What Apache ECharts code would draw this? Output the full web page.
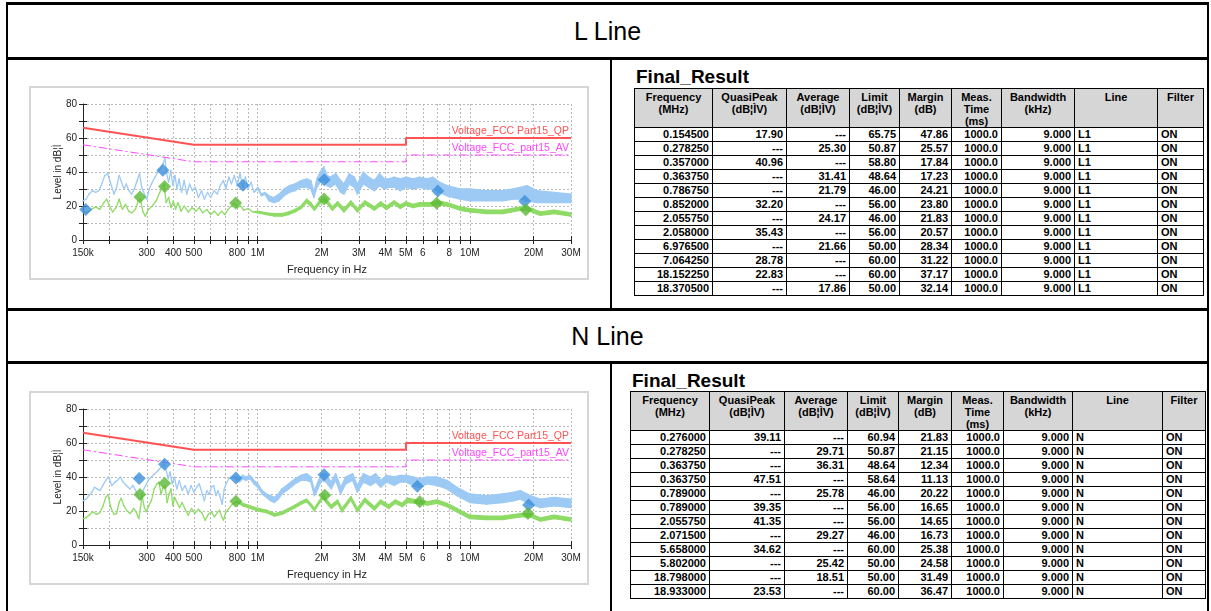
<!DOCTYPE html>
<html>
<head>
<meta charset="utf-8">
<title>Conducted Emission – L / N</title>
<script src="https://cdn.jsdelivr.net/npm/echarts@6.0.0/dist/echarts.min.js"></script>
<style>
  html, body { margin: 0; padding: 0; background: #fff; }
  body { position: relative; width: 1211px; height: 611px; overflow: hidden;
         font-family: "Liberation Sans", Arial, sans-serif; color: #000; }
  .rule { position: absolute; background: #000; }
  .section { position: absolute; left: 8px; width: 1199px; text-align: center;
             font-size: 25px; line-height: 30px; }
  .chart { position: absolute; left: 29px; width: 560px; height: 194px; box-sizing: border-box;
           border: 2px solid #d6d6d6; background: #fff; }
  .caption { position: absolute; font-weight: bold; font-size: 19px; line-height: 20px; }
  table.result { position: absolute; border-collapse: collapse; table-layout: fixed;
                 font-size: 11px; font-weight: bold; }
  table.result th, table.result td { border: 1px solid #000; padding: 0 3px; overflow: hidden; white-space: nowrap; }
  table.result th { background: #d6d6d6; vertical-align: top; text-align: center; line-height: 12px; padding-top: 2px; }
  table.result td { height: 13px; line-height: 13px; text-align: right; }
  table.result td.txt { text-align: left; }
</style>
</head>
<body>

<!-- page frame -->
<div class="rule" style="left:6px;top:2px;width:1203px;height:3px"></div>
<div class="rule" style="left:6px;top:2px;width:2px;height:609px"></div>
<div class="rule" style="left:1207px;top:2px;width:2px;height:609px"></div>
<div class="rule" style="left:6px;top:57px;width:1203px;height:3px"></div>
<div class="rule" style="left:6px;top:308px;width:1203px;height:3px"></div>
<div class="rule" style="left:6px;top:361px;width:1203px;height:3px"></div>
<div class="rule" style="left:610px;top:60px;width:2px;height:248px"></div>
<div class="rule" style="left:610px;top:364px;width:2px;height:247px"></div>

<div class="section" style="top:16px">L Line</div>
<div class="section" style="top:321px">N Line</div>

<div id="chartL" class="chart" style="top:86px"></div>
<div id="chartN" class="chart" style="top:391px"></div>

<div class="caption" style="left:636px;top:67px">Final_Result</div>
<table id="tableL" class="result" style="left:634px;top:88px;width:569px"></table>
<div class="caption" style="left:632px;top:371px">Final_Result</div>
<table id="tableN" class="result" style="left:630px;top:391px;width:575px"></table>

<script>
// ---------- axis ticks (frequency in MHz) ----------
const freqTickValues  = [0.15, 0.2, 0.3, 0.4, 0.5, 0.6, 0.7, 0.8, 0.9, 1, 2, 3, 4, 5, 6, 7, 8, 9, 10, 20, 30];
const freqLabelValues = [0.15, 0.3, 0.4, 0.5, 0.8, 1, 2, 3, 4, 5, 6, 8, 10, 20, 30];
const freqLabelTexts  = ['150k', '300', '400', '500', '800', '1M', '2M', '3M', '4M', '5M', '6', '8', '10M', '20M', '30M'];
const levelLabelValues = [0, 20, 40, 60, 80];

// ---------- FCC Part 15 class B limits [MHz, dBuV] ----------
const qpLimit = [[0.15, 66], [0.5, 56], [5, 56], [5, 60], [30, 60]];
const avLimit = [[0.15, 56], [0.5, 46], [5, 46], [5, 50], [30, 50]];

// ---------- final results: [MHz, QuasiPeak, Average, Limit, Margin] ----------
const lResults = [
  [0.154500, 17.90, null, 65.75, 47.86],
  [0.278250, null, 25.30, 50.87, 25.57],
  [0.357000, 40.96, null, 58.80, 17.84],
  [0.363750, null, 31.41, 48.64, 17.23],
  [0.786750, null, 21.79, 46.00, 24.21],
  [0.852000, 32.20, null, 56.00, 23.80],
  [2.055750, null, 24.17, 46.00, 21.83],
  [2.058000, 35.43, null, 56.00, 20.57],
  [6.976500, null, 21.66, 50.00, 28.34],
  [7.064250, 28.78, null, 60.00, 31.22],
  [18.152250, 22.83, null, 60.00, 37.17],
  [18.370500, null, 17.86, 50.00, 32.14]
];
const nResults = [
  [0.276000, 39.11, null, 60.94, 21.83],
  [0.278250, null, 29.71, 50.87, 21.15],
  [0.363750, null, 36.31, 48.64, 12.34],
  [0.363750, 47.51, null, 58.64, 11.13],
  [0.789000, null, 25.78, 46.00, 20.22],
  [0.789000, 39.35, null, 56.00, 16.65],
  [2.055750, 41.35, null, 56.00, 14.65],
  [2.071500, null, 29.27, 46.00, 16.73],
  [5.658000, 34.62, null, 60.00, 25.38],
  [5.802000, null, 25.42, 50.00, 24.58],
  [18.798000, null, 18.51, 50.00, 31.49],
  [18.933000, 23.53, null, 60.00, 36.47]
];
const measTimeMs = 1000.0;
const bandwidthKHz = 9.0;
const filterState = 'ON';

// ---------- pre-scan traces: [MHz, low dBuV, high dBuV] ----------
const lPeak = [
  [0.150,23,23],[0.155,24,24],[0.160,27,27],[0.166,29,29],[0.172,28,28],[0.178,29,29],[0.184,33,33],
  [0.190,38,38],[0.196,39,39],[0.203,33,33],[0.210,27,27],[0.216,31,31],[0.222,38,38],[0.228,34,34],
  [0.234,30,30],[0.240,33,33],[0.247,29,29],[0.254,27,27],[0.262,30,30],[0.270,35,35],[0.277,39,39],
  [0.284,31,31],[0.292,27,27],[0.300,24,24],[0.308,30,30],[0.318,34,34],[0.328,37,37],[0.338,40,40],
  [0.348,42,42],[0.358,45,45],[0.365,48,48],[0.372,39,39],[0.380,34,34],[0.389,41,41],[0.398,32,32],
  [0.407,38,38],[0.416,30,30],[0.426,36,36],[0.437,28,28],[0.450,35,35],[0.463,27,27],[0.477,33,33],
  [0.492,29,29],[0.508,31,31],[0.525,25,25],[0.543,29,29],[0.560,24,24],[0.580,28,28],[0.600,25,25],
  [0.622,29,29],[0.645,27,27],[0.665,32,32],[0.688,35,35],[0.708,30,30],[0.730,37,37],[0.752,33,33],
  [0.775,38,38],[0.800,32,32],[0.825,39,39],[0.850,31,31],[0.875,37,37],[0.900,30,30],[0.930,34,34],
  [0.960,28,28],[1.00,30,31],[1.04,26,27],[1.08,27,28],[1.13,23,26],[1.19,22,25],[1.26,23,27],
  [1.33,26,30],[1.41,28,32],[1.50,29,33],[1.60,31,35],[1.70,31,36],[1.78,30,35],[1.84,25,28],
  [1.90,31,36],[1.97,34,40],[2.05,35,43],[2.12,32,38],[2.20,31,37],[2.33,33,39],[2.46,28,35],
  [2.55,27,33],[2.70,33,39],[2.85,31,37],[2.95,27,33],[3.15,33,40],[3.33,31,37],[3.55,29,35],
  [3.75,32,39],[3.95,30,36],[4.15,31,36],[4.40,31,37],[4.70,29,36],[5.00,31,37],[5.40,30,36],
  [5.80,31,37],[6.30,30,36],[6.70,30,37],[7.20,28,34],[7.80,26,32],[8.40,25,31],[9.00,24,30],
  [10.0,23,30],[12.0,23,29],[14.3,23,29],[16.0,24,30],[17.3,24,31],[18.6,23,32],[20.7,22,29],
  [25.0,22,28],[30.0,22,27]
];
const lAvg = [
  [0.150,17,17],[0.157,16,16],[0.164,18,18],[0.172,19.5,19.5],[0.180,18,18],[0.188,22,22],[0.194,24,24],
  [0.200,20,20],[0.207,16.5,16.5],[0.215,19,19],[0.222,24,24],[0.230,18,18],[0.238,21,21],[0.246,17,17],
  [0.255,16,16],[0.265,18,18],[0.273,23,23],[0.280,24,24],[0.287,17,17],[0.295,14,14],[0.305,18,18],
  [0.318,20,20],[0.332,23,23],[0.345,28,28],[0.357,32,32],[0.362,33,33],[0.370,22,22],[0.380,25,25],
  [0.390,19,19],[0.400,23,23],[0.410,18,18],[0.420,22,22],[0.435,17,17],[0.450,20,20],[0.470,16.5,16.5],
  [0.490,19,19],[0.510,17,17],[0.530,19,19],[0.550,16,16],[0.575,18,18],[0.600,15,15],[0.625,17,17],
  [0.650,14.5,14.5],[0.675,17,17],[0.700,15,15],[0.725,18,18],[0.750,20,20],[0.775,22,22],[0.800,19,19],
  [0.830,20,20],[0.860,17.5,17.5],[0.900,18.5,18.5],[0.950,16.5,16.5],[1.00,16,17],[1.10,15,16],
  [1.20,14,15.5],[1.30,14,15.5],[1.40,15,16.5],[1.50,16.5,18],[1.60,18.5,20],[1.70,22,24],[1.78,20,22],
  [1.85,17.5,19],[1.95,21,23],[2.05,23,25],[2.12,21.5,23.5],[2.25,17.5,19.5],[2.38,20.5,22.5],
  [2.55,16.5,18.5],[2.75,21,23],[2.95,16.5,18.5],[3.20,21,23],[3.55,17.5,19.5],[3.80,20.5,22.5],
  [4.05,18,20],[4.40,21,23],[4.70,18.5,20.5],[5.00,20.5,22.5],[5.40,19,21],[5.80,20,22],[6.50,20,22],
  [7.00,21,23],[7.80,20,22],[9.00,17.5,19.5],[10.0,16.5,18.5],[12.0,15.5,17.5],[14.3,15.5,17.5],
  [17.3,17.5,19.5],[18.6,17.5,19.5],[21.5,14.5,16.5],[25.0,15.5,17.5],[30.0,14,16]
];
const nPeak = [
  [0.150,26,26],[0.155,27,27],[0.160,29,29],[0.165,31,31],[0.170,34,34],[0.175,33,33],[0.180,32,32],
  [0.186,35,35],[0.192,38,38],[0.198,40,40],[0.205,35,35],[0.212,37,37],[0.218,38,38],[0.225,40,40],
  [0.232,37,37],[0.240,35,35],[0.250,33,33],[0.258,35,35],[0.266,32,32],[0.274,28,28],[0.280,27,27],
  [0.288,32,32],[0.296,35,35],[0.305,38,38],[0.315,40,40],[0.328,42,42],[0.340,44,44],[0.352,46,46],
  [0.362,48,48],[0.370,44,44],[0.378,39,39],[0.386,43,43],[0.395,36,36],[0.405,40,40],[0.415,33,33],
  [0.427,38,38],[0.440,32,32],[0.455,35,35],[0.470,30,30],[0.485,35,35],[0.500,31,31],[0.515,34,34],
  [0.530,36,36],[0.548,30,30],[0.560,26,26],[0.575,32,32],[0.590,30,30],[0.605,34,34],[0.620,35,35],
  [0.635,29,29],[0.650,32,32],[0.665,28,28],[0.680,24,24],[0.695,33,33],[0.710,36,36],[0.730,39,39],
  [0.760,40,40],[0.790,39,40],[0.820,37,39],[0.850,39,41],[0.880,38,40],[0.920,39,41],[0.960,36,38],
  [1.00,34,36],[1.05,30,32],[1.10,28,30],[1.15,26,29],[1.20,25,28],[1.25,27,30],[1.30,30,33],
  [1.40,33,36],[1.50,36,39],[1.60,38,41],[1.70,38,42],[1.78,37,40],[1.85,29,32],[1.92,33,37],
  [2.00,38,42],[2.10,37,42],[2.22,33,37],[2.33,38,42],[2.46,30,34],[2.60,36,40],[2.80,38,42],
  [2.95,31,35],[3.15,37,42],[3.40,35,40],[3.60,37,42],[3.80,34,38],[4.05,37,41],[4.40,35,40],
  [4.70,37,41],[5.00,37,41],[5.40,35,40],[5.80,34,39],[6.30,36,40],[7.00,35,40],[7.80,33,38],
  [8.70,29,34],[10.0,25,30],[12.0,24,29],[14.3,25,30],[16.0,26,31],[17.3,27,32],[19.3,24,29],
  [21.5,22,27],[25.0,23,28],[30.0,22,27]
];
const nAvg = [
  [0.150,15.5,15.5],[0.155,16,16],[0.160,17.5,17.5],[0.167,19.5,19.5],[0.174,18,18],[0.180,19,19],
  [0.186,22.5,22.5],[0.192,28,28],[0.197,29.5,29.5],[0.203,22,22],[0.210,18,18],[0.216,18.5,18.5],
  [0.222,25,25],[0.227,27.5,27.5],[0.234,23,23],[0.242,20,20],[0.250,18.5,18.5],[0.260,21.5,21.5],
  [0.268,19,19],[0.275,15.5,15.5],[0.280,22,22],[0.285,29,29],[0.292,22,22],[0.298,19.5,19.5],
  [0.306,23,23],[0.315,26,26],[0.325,33,33],[0.335,36,36],[0.342,37,37],[0.350,30,30],[0.358,34,34],
  [0.366,35,35],[0.374,25,25],[0.382,30,30],[0.390,33,33],[0.398,23,23],[0.406,28,28],[0.416,25,25],
  [0.428,22,22],[0.440,25,25],[0.455,21,21],[0.470,17.5,17.5],[0.487,21.5,21.5],[0.505,18.5,18.5],
  [0.525,21,21],[0.545,19,19],[0.565,14.5,14.5],[0.585,18,18],[0.605,19.5,19.5],[0.625,16.5,16.5],
  [0.645,19,19],[0.660,20.5,20.5],[0.675,17,17],[0.690,14.5,14.5],[0.705,19,19],[0.725,21,21],
  [0.760,24,24],[0.800,25,26],[0.850,23,24.5],[0.900,22,23.5],[0.950,21,22.5],[1.00,20,21.5],
  [1.10,19,20.5],[1.20,17,18.5],[1.30,18,19.5],[1.40,20,21.5],[1.50,22,23.5],[1.60,24,25.5],
  [1.70,25.5,27],[1.80,22,23.5],[1.85,20,21.5],[1.95,24.5,26],[2.05,28,30],[2.10,25,27],
  [2.22,21.5,23.5],[2.38,24.5,26.5],[2.50,19.5,21.5],[2.75,26.5,28.5],[2.95,19.5,21.5],[3.20,25.5,27.5],
  [3.55,20.5,22.5],[3.80,24.5,26.5],[4.15,21.5,23.5],[4.45,24.5,26.5],[4.80,22.5,24.5],[5.10,25,27.5],
  [5.60,24.5,26.5],[6.30,23.5,25.5],[7.00,24.5,26.5],[7.80,22.5,24.5],[8.70,19.5,21.5],[10.0,15.5,17.5],
  [12.0,15,17],[14.3,15,17],[17.3,16.5,18.5],[19.3,16.5,18.5],[21.5,14,16],[25.0,15.5,17.5],[30.0,14,16]
];

// ---------- table ----------
const resultHeaders = [
  ['Frequency', '(MHz)'], ['QuasiPeak', '(dB¦ÌV)'], ['Average', '(dB¦ÌV)'], ['Limit', '(dB¦ÌV)'],
  ['Margin', '(dB)'], ['Meas.', 'Time', '(ms)'], ['Bandwidth', '(kHz)'], ['Line'], ['Filter']
];

function fmtLevel(v) { return v === null ? '---' : v.toFixed(2); }

function buildTable(id, rows, lineName, colWidths, headerHeight) {
  let html = '<colgroup>' + colWidths.map(w => `<col style="width:${w}px">`).join('') + '</colgroup>';
  html += `<tr style="height:${headerHeight}px">` +
          resultHeaders.map(h => `<th>${h.join('<br>')}</th>`).join('') + '</tr>';
  rows.forEach(r => {
    const cells = [r[0].toFixed(6), fmtLevel(r[1]), fmtLevel(r[2]), r[3].toFixed(2), r[4].toFixed(2),
                   measTimeMs.toFixed(1), bandwidthKHz.toFixed(3)];
    html += '<tr>' + cells.map(c => `<td>${c}</td>`).join('') +
            `<td class="txt">${lineName}</td><td class="txt">${filterState}</td></tr>`;
  });
  document.getElementById(id).innerHTML = html;
}

buildTable('tableL', lResults, 'L1', [78, 74, 63, 50, 52, 50, 73, 83, 46], 35);
buildTable('tableN', nResults, 'N',  [79, 75, 63, 51, 53, 52, 69, 90, 43], 38);

// ---------- charts ----------
const FONT = '"Liberation Sans", Arial, sans-serif';
const AXIS_COLOR = '#222';
const GRID_LINE = { color: '#b9b9b9', type: [2, 2], width: 1 };

function freqLabel(v) {
  const i = freqLabelValues.findIndex(f => Math.abs(f - v) / f < 1e-6);
  return i < 0 ? '' : freqLabelTexts[i];
}

// Filled band between the low and high envelope of a trace, one quad per segment.
function bandSeries(points, color) {
  const segs = [];
  for (let i = 0; i < points.length - 1; i++) {
    const a = points[i], b = points[i + 1];
    segs.push([a[0], a[1], a[2], b[0], b[1], b[2]]);
  }
  return {
    type: 'custom',
    silent: true,
    data: segs,
    encode: { x: [0, 3], y: [1, 2, 4, 5] },
    renderItem(params, api) {
      const lo1 = api.coord([api.value(0), api.value(1)]);
      const hi1 = api.coord([api.value(0), api.value(2)]);
      const lo2 = api.coord([api.value(3), api.value(4)]);
      const hi2 = api.coord([api.value(3), api.value(5)]);
      return {
        type: 'polygon',
        shape: { points: [lo1, hi1, hi2, lo2] },
        style: { fill: color, stroke: color, lineWidth: 1.3, lineJoin: 'round' }
      };
    }
  };
}

function limitSeries(points, color, width, dash, text) {
  const last = points.length - 1;
  return {
    type: 'line',
    silent: true,
    data: points.map((p, i) => i === last ? {
      value: p,
      label: { show: true, formatter: text, position: 'top', align: 'right', distance: 1,
               offset: [-2, 0], color: color, fontSize: 10.5, fontFamily: FONT }
    } : p),
    showSymbol: true, symbol: 'circle', symbolSize: 0.1,
    itemStyle: { color: color },
    lineStyle: { color: color, width: width, type: dash },
    z: 4
  };
}

function markerSeries(points, color) {
  return {
    type: 'scatter', silent: true, data: points,
    symbol: 'diamond', symbolSize: 13,
    itemStyle: { color: color }, z: 6
  };
}

function buildChart(elId, peak, avg, results) {
  const chart = echarts.init(document.getElementById(elId), null, { renderer: 'canvas' });
  const qpPoints = results.filter(r => r[1] !== null).map(r => [r[0], r[1]]);
  const avPoints = results.filter(r => r[2] !== null).map(r => [r[0], r[2]]);
  const xCommon = { type: 'log', logBase: 10, min: 0.15, max: 30, position: 'bottom', offset: 0 };
  const yCommon = { type: 'value', min: 0, max: 80, interval: 10, position: 'left', offset: 0 };
  chart.setOption({
    animation: false,
    textStyle: { fontFamily: FONT },
    grid: { left: 52, right: 16, top: 16, bottom: 38, containLabel: false, outerBoundsMode: 'none' },
    xAxis: [
      Object.assign({}, xCommon, {
        name: 'Frequency in Hz', nameLocation: 'middle', nameGap: 24, nameMoveOverlap: false,
        nameTextStyle: { fontSize: 11, color: AXIS_COLOR, fontFamily: FONT },
        axisLine: { show: true, lineStyle: { color: AXIS_COLOR, width: 1 } },
        axisTick: { show: true, customValues: freqTickValues, length: 4, lineStyle: { color: AXIS_COLOR } },
        axisLabel: { customValues: freqLabelValues, formatter: freqLabel, fontSize: 10,
                     color: AXIS_COLOR, margin: 8, hideOverlap: false },
        splitLine: { show: true, lineStyle: GRID_LINE },
        minorTick: { show: false }, minorSplitLine: { show: false }
      }),
      Object.assign({}, xCommon, {
        axisLine: { show: false },
        axisTick: { show: true, inside: true, customValues: freqTickValues, length: 4, lineStyle: { color: AXIS_COLOR } },
        axisLabel: { show: false }, splitLine: { show: false }
      })
    ],
    yAxis: [
      Object.assign({}, yCommon, {
        name: 'Level in dB¦Ì', nameLocation: 'middle', nameGap: 20, nameMoveOverlap: false,
        nameTextStyle: { fontSize: 10, color: AXIS_COLOR, fontFamily: FONT },
        axisLine: { show: true, lineStyle: { color: AXIS_COLOR, width: 1 } },
        axisTick: { show: true, length: 4, lineStyle: { color: AXIS_COLOR } },
        axisLabel: { formatter: v => levelLabelValues.includes(v) ? String(v) : '',
                     fontSize: 10, color: AXIS_COLOR, margin: 6 },
        splitLine: { show: true, lineStyle: GRID_LINE }
      }),
      Object.assign({}, yCommon, {
        axisLine: { show: false },
        axisTick: { show: true, inside: true, length: 4, lineStyle: { color: AXIS_COLOR } },
        axisLabel: { show: false }, splitLine: { show: false }
      })
    ],
    series: [
      bandSeries(peak, '#9dcaf5'),
      bandSeries(avg, '#8edb66'),
      limitSeries(qpLimit, '#ff5252', 2, 'solid', 'Voltage_FCC Part15_QP'),
      limitSeries(avLimit, '#ff44ff', 1, [8, 3, 2, 3], 'Voltage_FCC_part15_AV'),
      markerSeries(qpPoints, '#3b8edb'),
      markerSeries(avPoints, '#5bb934')
    ]
  });
  return chart;
}

buildChart('chartL', lPeak, lAvg, lResults);
buildChart('chartN', nPeak, nAvg, nResults);
</script>
</body>
</html>
